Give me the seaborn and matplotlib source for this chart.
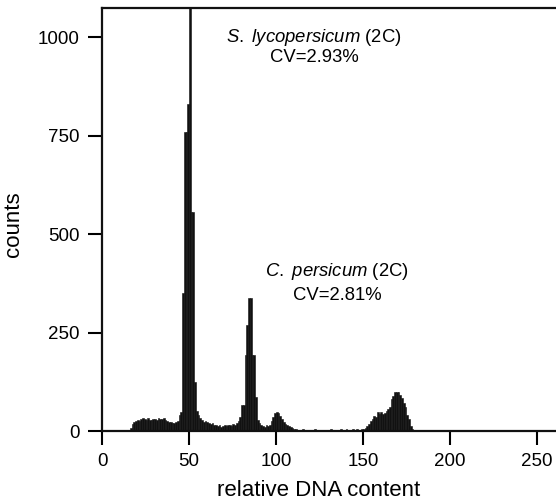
import numpy as np
import pandas as pd
import matplotlib.pyplot as plt
import seaborn as sns

sns.set_style('ticks')
plt.rcParams['font.family'] = ['Liberation Sans', 'DejaVu Sans']
plt.rcParams['mathtext.fontset'] = 'custom'
plt.rcParams['mathtext.rm'] = 'Liberation Sans'
plt.rcParams['mathtext.it'] = 'Liberation Sans:italic'
for key in ['text.color', 'axes.labelcolor', 'xtick.color', 'ytick.color']:
    plt.rcParams[key] = 'black'

# histogram counts, one channel per unit of relative DNA content
first_channel = 16
counts_debris = [8, 18, 22, 25, 28, 26, 30, 33, 30, 28, 32, 29, 27, 30, 31,
                 28, 33, 31, 30, 32, 27, 25, 24, 22, 20, 21, 22, 25, 40, 48]       # 16-45
counts_sly = [350, 760, 760, 830, 1300, 556, 556, 125, 50, 40]                     # 46-55
counts_gap1 = [32, 28, 24, 25, 22, 20, 18, 20, 15, 14, 12, 14, 10, 12, 14, 12,
               16, 15, 13, 18, 15, 20, 25, 35]                                     # 56-79
counts_cpe = [66, 66, 193, 269, 338, 338, 193, 193, 87, 28, 20]                    # 80-90
counts_sly4c = [15, 12, 10, 15, 12, 15, 25, 35, 45, 49, 45, 38, 30, 22, 18, 15,
                12, 10, 8, 6, 5]                                                   # 91-111
counts_gap2 = [3, 2, 3, 4, 2, 3, 2, 2, 3, 2, 4, 3, 2, 2, 3, 2, 2, 3, 2, 4, 3, 2,
               3, 2, 3, 4, 3, 3, 4, 3, 2, 3, 4, 3, 4, 3]                           # 112-147
counts_cpe4c = [3, 4, 5, 8, 12, 18, 25, 30, 38, 35, 48, 42, 48, 44, 46, 52, 56,
                62, 80, 88, 100, 98, 100, 92, 85, 70, 62, 40, 30, 12, 5, 3]        # 148-179
counts_tail = [2, 2, 1, 2, 1, 1, 2, 1, 2, 1, 1, 1, 2, 1, 1, 2, 1, 1, 1, 2, 1, 1,
               1, 1, 2, 1, 1, 1, 1, 2, 1, 1, 1, 1, 1, 2, 1, 1, 1, 1, 1, 1, 2, 1,
               1, 1, 1, 1, 1, 1, 2, 1, 1, 1, 1, 1, 1, 1, 1, 1, 1, 2, 1, 1, 1, 1,
               1, 1, 1, 1, 1, 1, 1, 1, 1, 1]                                       # 180-255

counts = (counts_debris + counts_sly + counts_gap1 + counts_cpe + counts_sly4c
          + counts_gap2 + counts_cpe4c + counts_tail)
channels = np.arange(first_channel, first_channel + len(counts)) + 0.5
df = pd.DataFrame({'dna': channels, 'counts': counts})

x_ticks = [0, 50, 100, 150, 200, 250]
y_ticks = [0, 250, 500, 750, 1000]

fig = plt.figure(figsize=(5.56, 5.0), dpi=100)
ax = fig.add_axes([0.1835, 0.138, 0.8165, 0.846])

sns.histplot(data=df, x='dna', weights='counts', binwidth=1,
             binrange=(first_channel, first_channel + len(counts)),
             color='#111111', edgecolor='#111111', alpha=1, linewidth=0.4, ax=ax)

ax.set_xlim(0, 261)
ax.set_ylim(0, 1074)
ax.set_xticks(x_ticks)
ax.set_yticks(y_ticks)
ax.tick_params(direction='out', length=10, width=1.5, labelsize=13.5, pad=6)
for side in ['left', 'bottom', 'top']:
    ax.spines[side].set_linewidth(1.6)
    ax.spines[side].set_color('#111111')
ax.spines['right'].set_visible(False)
ax.set_xlabel('relative DNA content', fontsize=16)
ax.set_ylabel('counts', fontsize=16)
ax.xaxis.set_label_coords(0.478, -0.117)
ax.yaxis.set_label_coords(-0.172, 0.49)

ax.text(122, 1000, r'$\it{S.}$ $\it{lycopersicum}$ (2C)', ha='center', va='center', fontsize=13.3)
ax.text(122, 948, 'CV=2.93%', ha='center', va='center', fontsize=13.3)
ax.text(135, 405, r'$\it{C.}$ $\it{persicum}$ (2C)', ha='center', va='center', fontsize=13.3)
ax.text(135, 344, 'CV=2.81%', ha='center', va='center', fontsize=13.3)

fig.savefig('out.png', dpi=100)
